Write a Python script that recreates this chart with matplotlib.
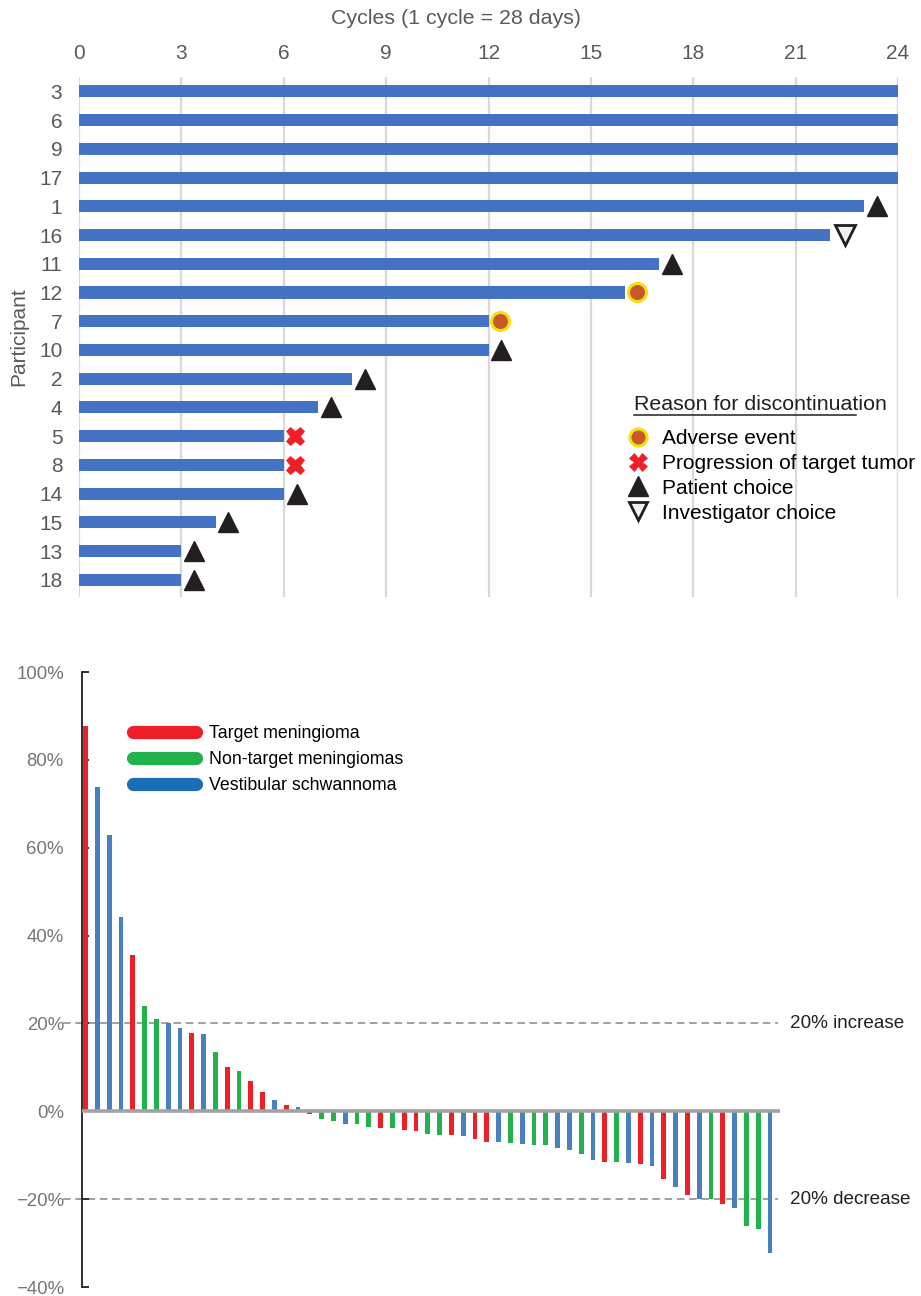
import numpy as np
import matplotlib
matplotlib.use("Agg")
import matplotlib.pyplot as plt
from matplotlib.lines import Line2D
import matplotlib.transforms as mtransforms

plt.rcParams['font.family'] = ['Liberation Sans', 'DejaVu Sans']

# ---- top panel data (swimmer plot) ----
participants = ['3', '6', '9', '17', '1', '16', '11', '12', '7', '10',
                '2', '4', '5', '8', '14', '15', '13', '18']
cycles = [24, 24, 24, 24, 23, 22, 17, 16, 12, 12, 8, 7, 6, 6, 6, 4, 3, 3]
reasons = [None, None, None, None, 'patient', 'investigator', 'patient',
           'adverse', 'adverse', 'patient', 'patient', 'patient',
           'progression', 'progression', 'patient', 'patient', 'patient', 'patient']
reason_labels = {'adverse': 'Adverse event',
                 'progression': 'Progression of target tumor',
                 'patient': 'Patient choice',
                 'investigator': 'Investigator choice'}
cycle_ticks = [0, 3, 6, 9, 12, 15, 18, 21, 24]

# ---- bottom panel data (waterfall) ----
change_pct = [87.6, 73.9, 63.0, 44.2, 35.5, 23.9, 21.1, 20.2, 18.9, 17.9,
              17.7, 13.6, 10.1, 9.2, 7.0, 4.3, 2.6, 1.4, 1.0, -0.6,
              -1.7, -2.3, -2.8, -2.9, -3.6, -3.7, -3.9, -4.3, -4.5, -5.2,
              -5.3, -5.5, -5.6, -6.3, -6.9, -7.1, -7.2, -7.5, -7.7, -7.7,
              -8.4, -8.9, -9.7, -11.2, -11.5, -11.6, -11.7, -12.0, -12.5, -15.4,
              -17.2, -19.1, -19.9, -19.9, -21.2, -22.0, -26.2, -26.7, -32.2]
tumor_type = list('RBBBRGGBBRBGRGRRBRBRGGBGGRGRRGGRBRRBGBGGBBGBRGBRBRBRBGRBGGB')
type_labels = {'R': 'Target meningioma', 'G': 'Non-target meningiomas',
               'B': 'Vestibular schwannoma'}
pct_ticks = [100, 80, 60, 40, 20, 0, -20, -40]

bar_col = {'R': '#EE1F26', 'G': '#22B24C', 'B': '#4B80C0'}
leg_col = {'R': '#EE1F26', 'G': '#22B24C', 'B': '#1B6DB5'}
marker_style = {
    'adverse': dict(marker='o', ms=13, mfc='#C55A28', mec='#F2E10C', mew=2.2, off=0.35),
    'progression': dict(marker='X', ms=13, mfc='#EE1F26', mec='#EE1F26', mew=0.5, off=0.32),
    'patient': dict(marker='^', ms=15, mfc='#231F20', mec='#231F20', mew=1, off=0.38),
    'investigator': dict(marker='v', ms=14, mfc='#F0F2F4', mec='#231F20', mew=2, off=0.45),
}

fig = plt.figure(figsize=(9.21, 12.96), dpi=100)
W, H = 921, 1296

# ================= top panel =================
ax1 = fig.add_axes([79 / W, 1 - 597 / H, (898 - 79) / W, (597 - 77) / H])
ypos = np.arange(len(participants))
ax1.barh(ypos, cycles, height=0.42, color='#4472C4', zorder=2)
for y, c, r in zip(ypos, cycles, reasons):
    if r is None:
        continue
    st = marker_style[r]
    ax1.plot(c + st['off'], y, marker=st['marker'], ms=st['ms'], mfc=st['mfc'],
             mec=st['mec'], mew=st['mew'], ls='none', zorder=3, clip_on=False)
ax1.set_xlim(0, 24)
ax1.set_ylim(17.6, -0.5)
ax1.set_xticks(cycle_ticks)
ax1.set_yticks(ypos)
ax1.set_yticklabels(participants)
ax1.xaxis.tick_top()
ax1.grid(axis='x', color='#D9D9D9', lw=1.6, zorder=0)
ax1.set_axisbelow(True)
for s in ax1.spines.values():
    s.set_visible(False)
ax1.tick_params(axis='both', length=0, labelsize=15, labelcolor='#595959')
ax1.tick_params(axis='x', pad=10)
ax1.tick_params(axis='y', pad=12)
fig.text(456 / W, 1 - 18 / H, 'Cycles (1 cycle = 28 days)', fontsize=15.4,
         color='#595959', ha='center', va='center')
ax1.set_ylabel('Participant', fontsize=15, color='#595959', labelpad=8)

# legend for discontinuation reasons
handles = []
for key in ['adverse', 'progression', 'patient', 'investigator']:
    st = marker_style[key]
    handles.append(Line2D([], [], marker=st['marker'], ms=st['ms'] * 0.95, mfc=st['mfc'],
                          mec=st['mec'], mew=st['mew'], ls='none', label=reason_labels[key]))
ax1.legend(handles=handles, loc='upper left', frameon=False, fontsize=15,
           bbox_to_anchor=(628 / W, 1 - 429 / H), bbox_transform=fig.transFigure,
           borderpad=0, borderaxespad=0, handlelength=1.0, handletextpad=0.62,
           labelspacing=0.28)
fig.text(634 / W, 1 - 405 / H, 'Reason for discontinuation', fontsize=15.4,
         color='#231F20', va='center', ha='left')
fig.add_artist(Line2D([634 / W, 856 / W], [1 - 415 / H, 1 - 415 / H],
                      color='#231F20', lw=1.1, transform=fig.transFigure))

# ================= bottom panel =================
ax2 = fig.add_axes([82 / W, 1 - 1287 / H, (780 - 82) / W, (1287 - 672) / H])
xpos = np.arange(len(change_pct))
ax2.bar(xpos, change_pct, width=0.4, color=[bar_col[t] for t in tumor_type], zorder=2)
ax2.axhline(0, color='#A3A3A3', lw=2.6, zorder=3)
for lvl in (20, -20):
    ax2.axhline(lvl, xmin=-0.027, xmax=0.997, color='#999999', lw=1.3,
                ls=(0, (4.2, 2.6)), zorder=1, clip_on=False)
tr = mtransforms.blended_transform_factory(ax2.transAxes, ax2.transData)
ax2.text(1.0145, 20, '20% increase', transform=tr, fontsize=13.6, color='#231F20', va='center')
ax2.text(1.0145, -20, '20% decrease', transform=tr, fontsize=13.6, color='#231F20', va='center')

ax2.set_xlim(-0.3, len(change_pct) - 0.15)
ax2.set_ylim(-40, 100)
ax2.set_yticks(pct_ticks)
ax2.set_yticklabels([f'{v}%'.replace('-', '\u2212') for v in pct_ticks])
ax2.set_xticks([])
for s in ['top', 'right', 'bottom']:
    ax2.spines[s].set_visible(False)
ax2.spines['left'].set_color('#231F20')
ax2.spines['left'].set_linewidth(1.3)
ax2.tick_params(axis='y', direction='in', length=5, width=1.3, color='#231F20',
                labelsize=13.4, labelcolor='#767676', pad=13)

handles2 = [Line2D([], [], color=leg_col[k], lw=9.5, solid_capstyle='round',
                   label=type_labels[k]) for k in ['R', 'G', 'B']]
ax2.legend(handles=handles2, loc='upper left', frameon=False, fontsize=12.8,
           bbox_to_anchor=(133 / W, 1 - 725 / H), bbox_transform=fig.transFigure,
           borderpad=0, borderaxespad=0, handlelength=3.55, handletextpad=0.75,
           labelspacing=0.5)

fig.savefig('out.png', dpi=100)
